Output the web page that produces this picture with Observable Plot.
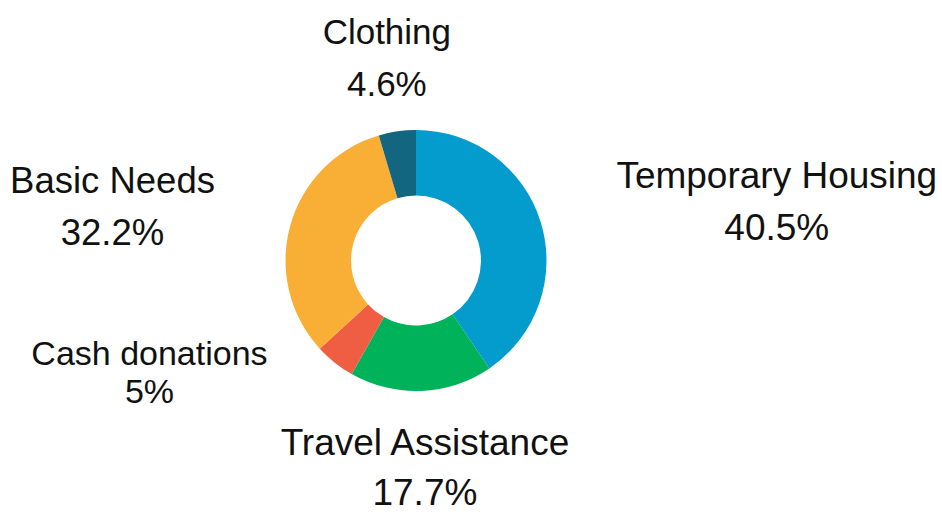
<!DOCTYPE html>
<html><head><meta charset="utf-8">
<script src="https://cdn.jsdelivr.net/npm/d3@7"></script>
<script src="https://cdn.jsdelivr.net/npm/@observablehq/plot@0.6"></script>
<style>html,body{margin:0;padding:0;background:#fff;} svg{display:block;}</style>
</head><body><div id="chart"></div>
<script>
// ---- data ----
const categories = ["Temporary Housing", "Travel Assistance", "Cash donations", "Basic Needs", "Clothing"];
const values = [40.5, 17.7, 5, 32.2, 4.6];
const valueLabels = ["40.5%", "17.7%", "5%", "32.2%", "4.6%"];
const colors = ["#039ccc", "#00b259", "#ef5e43", "#f9ae35", "#12667f"];

// ---- layout / style (kept in code, not in data) ----
const W = 942, H = 517;
const outerPx = 130.5;           // outer radius in px
const innerRatio = 65 / 130.5;   // donut hole
const ml = 0, mr = 110, mt = 4, mb = 0;
const xHalf = (W - ml - mr) / 2 / outerPx;
const yHalf = (H - mt - mb) / 2 / outerPx;
const labelR = 206;              // px from centre to label block middle
const sidePad = 3;               // extra px outward for side labels
const FONT = "'Liberation Sans', Arial, Helvetica, sans-serif";
const labelStyle = {             // font size px, line spacing px
  "Temporary Housing": [37, 52],
  "Travel Assistance": [37, 50],
  "Cash donations": [34, 38],
  "Basic Needs": [36.5, 52],
  "Clothing": [35, 52]
};

const data = categories.map((name, i) => ({name, value: values[i], pct: valueLabels[i]}));
const arcs = d3.pie().sort(null).value(d => d.value)(data);
const color = d3.scaleOrdinal(categories, colors);

const ctx = document.createElement("canvas").getContext("2d");
function textWidth(s, size) { ctx.font = `${size}px ${FONT}`; return ctx.measureText(s).width; }

// label boxes in px relative to donut centre
const labels = arcs.map(a => {
  const mid = (a.startAngle + a.endAngle) / 2;
  const s = Math.sin(mid), c = Math.cos(mid);
  const [size, L] = labelStyle[a.data.name];
  const halfW = Math.max(textWidth(a.data.name, size), textWidth(a.data.pct, size)) / 2;
  let x = s * labelR, y = -c * labelR;     // screen px, y down
  if (s > 0.5) x += halfW + sidePad; else if (s < -0.5) x -= halfW + sidePad;
  const halfH = (L + 0.71 * size) / 2;      // visual half height (cap top to last baseline)
  return {name: a.data.name, pct: a.data.pct, x, y, halfW, halfH, size, L, s};
});
// collision avoidance: a side label overlapping another is pushed up and outward
for (const A of labels) {
  for (const B of labels) {
    if (A === B || Math.abs(A.s) > 0.9 || Math.abs(A.s) < 0.5) continue;
    const ox = Math.abs(A.x - B.x) < A.halfW + B.halfW + 12;
    const oy = Math.abs(A.y - B.y) < A.halfH + B.halfH;
    if (ox && oy && B.y > A.y - 1 && Math.abs(B.s) < 0.5) {
      A.y = (B.y - B.halfH) - 26 - A.halfH;
      A.x = A.s < 0 ? (B.x - B.halfW) - 12 - A.halfW : (B.x + B.halfW) + 12 + A.halfW;
    }
  }
}
// convert to data units; compensate Plot's middle line anchor for 2-line text
labels.forEach(d => {
  const yPlot = d.y - 0.32 * d.L + 0.355 * d.size;
  d.ux = d.x / outerPx;
  d.uy = -yPlot / outerPx;
});

function donut(index, scales) {
  let cx, cy, r;
  if (scales && typeof scales.x === "function") {
    cx = scales.x(0); cy = scales.y(0); r = scales.x(1) - scales.x(0);
  } else {
    cx = ml + (W - ml - mr) / 2; cy = mt + (H - mt - mb) / 2; r = outerPx;
  }
  const arc = d3.arc().innerRadius(r * innerRatio).outerRadius(r);
  const g = d3.create("svg:g").attr("transform", `translate(${cx},${cy})`);
  g.selectAll("path").data(arcs).join("path")
    .attr("d", arc)
    .attr("fill", d => color(d.data.name));
  return g.node();
}

const chart = Plot.plot({
  width: W, height: H,
  marginLeft: ml, marginRight: mr, marginTop: mt, marginBottom: mb,
  x: {domain: [-xHalf, xHalf], axis: null},
  y: {domain: [-yHalf, yHalf], axis: null},
  style: {fontFamily: FONT, background: "white", color: "black"},
  marks: [
    donut,
    ...labels.map(d => Plot.text([d], {
      x: "ux", y: "uy", text: e => e.name + "\n" + e.pct,
      fontSize: d.size, lineHeight: d.L / d.size, textAnchor: "middle", fill: "#111"
    }))
  ]
});
document.getElementById("chart").appendChild(chart);
</script>
</body></html>
